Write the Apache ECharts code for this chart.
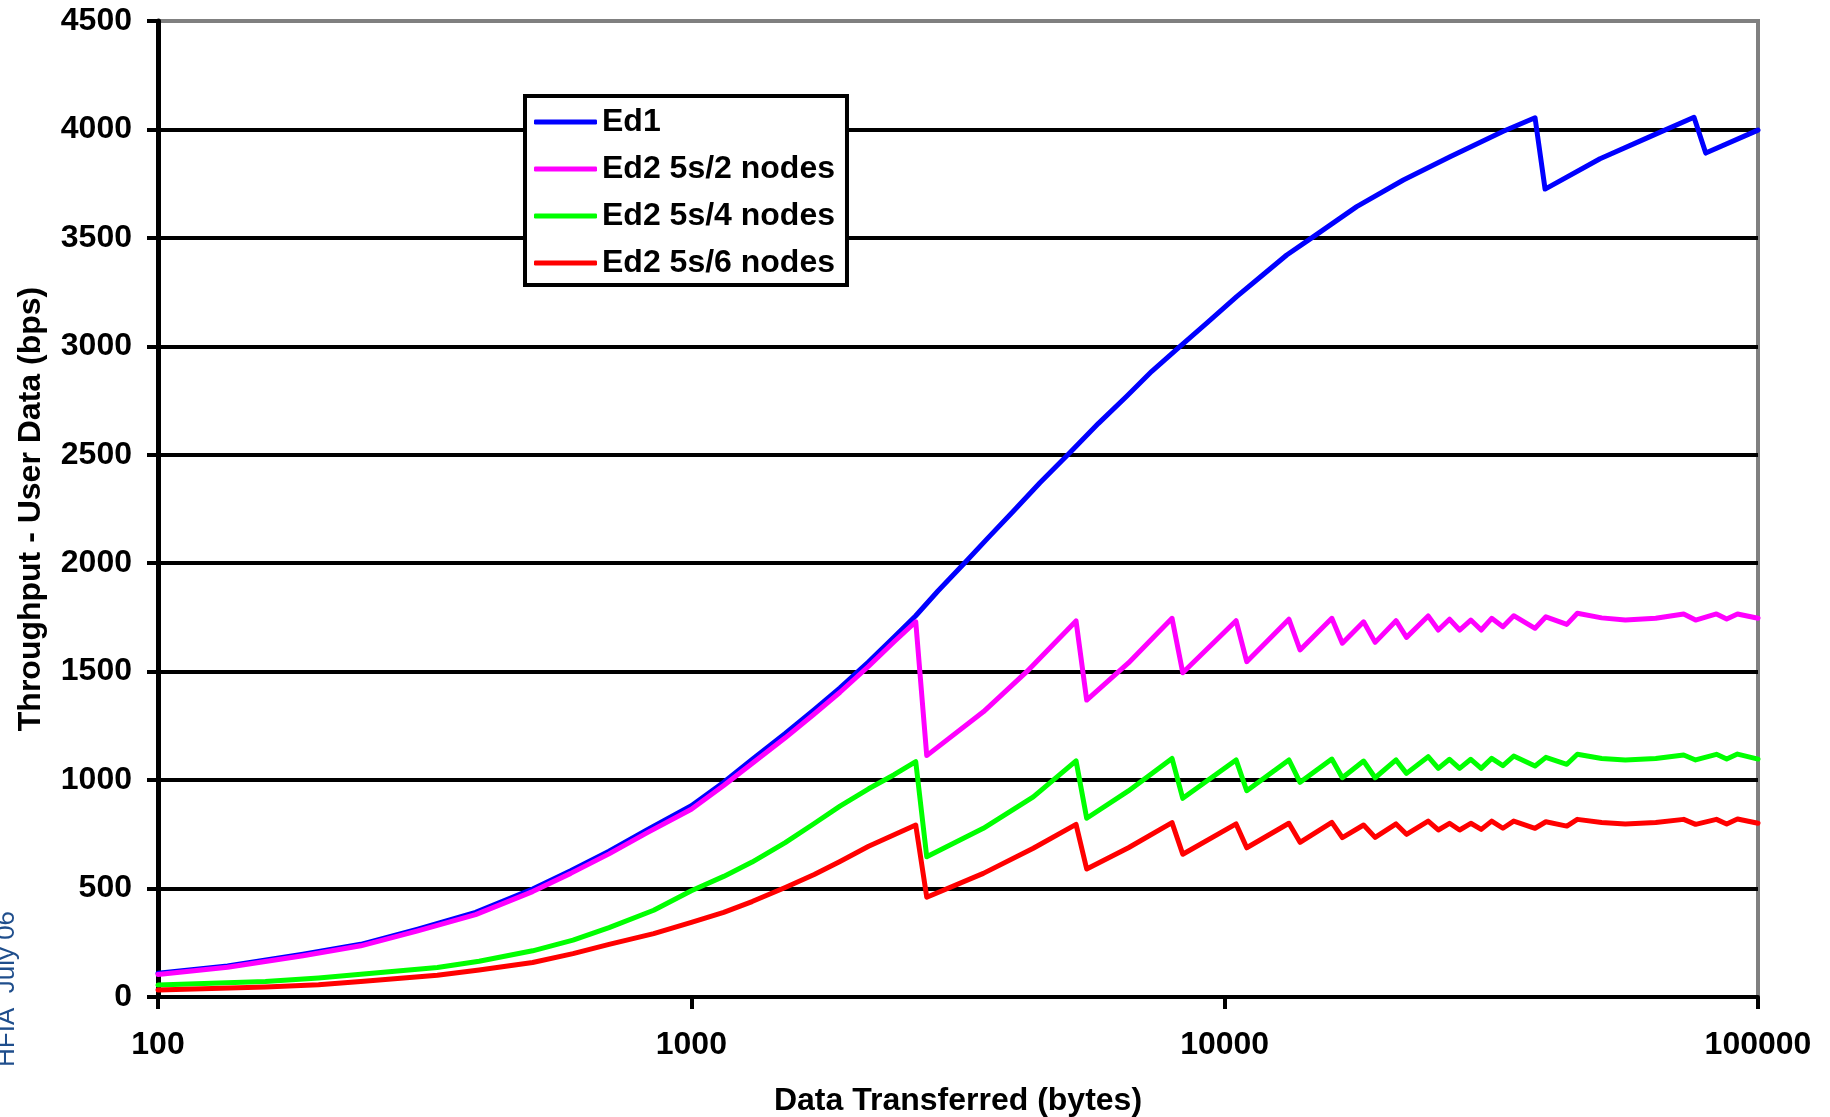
<!DOCTYPE html>
<html>
<head>
<meta charset="utf-8">
<script src="https://cdn.jsdelivr.net/npm/echarts@6/dist/echarts.min.js"></script>
<style>
html, body { margin: 0; padding: 0; background: #fff; }
#chart { width: 1830px; height: 1117px; }
</style>
</head>
<body>
<div id="chart"></div>
<script>
var FONT = '"Liberation Sans", Arial, sans-serif';

// [bytes, bps]
var ed1 = [
    [100, 110], [135, 143], [187, 197], [240, 243], [307, 313], [394, 390],
    [504, 498], [594, 582], [701, 672], [827, 772], [1000, 882], [1150, 990],
    [1300, 1095], [1500, 1215], [1700, 1325], [1900, 1425], [2150, 1545],
    [2400, 1660], [2635, 1758], [2900, 1872], [3250, 2000], [3600, 2117],
    [4015, 2240], [4500, 2370], [5129, 2510], [5800, 2645], [6551, 2770],
    [7300, 2885], [8248, 3000], [9300, 3112], [10531, 3229], [11800, 3330],
    [13073, 3421], [14561, 3500], [17685, 3644], [21630, 3767], [26460, 3874],
    [33300, 3992], [38190, 4054], [39880, 3725], [50560, 3865], [62740, 3967],
    [75860, 4056], [79800, 3891], [100000, 3997]
];

var ed2n2 = [
    [100, 104], [135, 137], [187, 190], [240, 236], [307, 305], [394, 380],
    [504, 486], [594, 570], [701, 660], [827, 758], [1000, 866], [1150, 975],
    [1300, 1077], [1500, 1195], [1700, 1305], [1900, 1405], [2150, 1525],
    [2400, 1638], [2635, 1730], [2763, 1113], [3528, 1315], [4255, 1500],
    [5264, 1734], [5512, 1369], [6600, 1540], [7967, 1746], [8345, 1495],
    [10505, 1735], [11000, 1546], [13196, 1742], [13846, 1600], [15883, 1746],
    [16620, 1631], [18217, 1730], [19148, 1635], [20956, 1735], [21925, 1658],
    [24076, 1757], [25153, 1692], [26400, 1742], [27575, 1692], [28940, 1738],
    [30270, 1692], [31670, 1746], [33240, 1707], [34830, 1758], [38190, 1700],
    [40020, 1753], [43810, 1718], [45840, 1769], [50920, 1748], [56390, 1738],
    [64300, 1746], [72550, 1766], [76380, 1738], [83580, 1766], [87350, 1743],
    [91530, 1766], [100000, 1746]
];

var ed2n4 = [
    [100, 55], [159, 71], [200, 88], [240, 105], [334, 136], [400, 165],
    [504, 213], [600, 262], [701, 320], [850, 400], [1000, 490], [1150, 556],
    [1300, 622], [1500, 712], [1700, 800], [1900, 880], [2150, 960],
    [2400, 1025], [2635, 1085], [2763, 647], [3528, 778], [4377, 923],
    [5264, 1089], [5512, 824], [6600, 950], [7967, 1100], [8345, 916],
    [10505, 1093], [11000, 951], [13196, 1093], [13846, 990], [15883, 1097],
    [16620, 1011], [18217, 1088], [19148, 1011], [20956, 1093], [21925, 1031],
    [24076, 1108], [25153, 1054], [26400, 1096], [27575, 1054], [28940, 1096],
    [30270, 1054], [31670, 1100], [33240, 1067], [34830, 1111], [38190, 1065],
    [40020, 1105], [43810, 1073], [45840, 1119], [50920, 1100], [56390, 1093],
    [64300, 1100], [72550, 1116], [76380, 1093], [83580, 1119], [87350, 1097],
    [91530, 1120], [100000, 1097]
];

var ed2n6 = [
    [100, 32], [159, 46], [200, 57], [240, 71], [334, 100], [400, 124],
    [504, 159], [600, 200], [701, 243], [850, 292], [1000, 344], [1150, 390],
    [1300, 440], [1500, 505], [1700, 565], [1900, 625], [2150, 695],
    [2400, 748], [2635, 793], [2763, 460], [3528, 570], [4377, 686],
    [5264, 796], [5512, 590], [6600, 688], [7967, 804], [8345, 658],
    [10505, 798], [11000, 688], [13196, 801], [13846, 713], [15883, 805],
    [16620, 735], [18217, 793], [19148, 736], [20956, 798], [21925, 750],
    [24076, 811], [25153, 770], [26400, 801], [27575, 770], [28940, 801],
    [30270, 773], [31670, 811], [33240, 778], [34830, 811], [38190, 778],
    [40020, 808], [43810, 788], [45840, 819], [50920, 805], [56390, 798],
    [64300, 805], [72550, 819], [76380, 796], [83580, 819], [87350, 798],
    [91530, 821], [100000, 801]
];

var seriesNames = ['Ed1', 'Ed2 5s/2 nodes', 'Ed2 5s/4 nodes', 'Ed2 5s/6 nodes'];
var seriesColors = ['#0000ff', '#ff00ff', '#00ff00', '#ff0000'];
var seriesData = [ed1, ed2n2, ed2n4, ed2n6];

var chart = echarts.init(document.getElementById('chart'));

var series = [];
for (var i = 0; i < seriesData.length; i++) {
    series.push({
        name: seriesNames[i],
        type: 'line',
        data: seriesData[i],
        symbol: 'none',
        color: seriesColors[i],
        lineStyle: { color: seriesColors[i], width: 5, join: 'round', cap: 'round' }
    });
}

var option = {
    animation: false,
    backgroundColor: '#fff',
    textStyle: { fontFamily: FONT },
    grid: {
        left: 158, right: 72, top: 21, bottom: 120,
        outerBoundsMode: 'none',
        containLabel: false,
        show: true, borderColor: '#808080', borderWidth: 4
    },
    legend: {
        orient: 'vertical',
        left: 525, top: 96,
        padding: [10, 12, 6, 9],
        itemGap: 15,
        itemWidth: 63,
        itemHeight: 5,
        icon: 'roundRect',
        backgroundColor: '#fff',
        borderColor: '#000',
        borderWidth: 4,
        borderRadius: 0,
        textStyle: { fontSize: 32, fontWeight: 'bold', color: '#000', fontFamily: FONT }
    },
    xAxis: {
        type: 'log', logBase: 10, min: 100, max: 100000,
        name: 'Data Transferred (bytes)',
        nameLocation: 'middle',
        nameGap: 88,
        nameTextStyle: { fontSize: 32, fontWeight: 'bold', color: '#000', fontFamily: FONT },
        axisLine: { show: true, lineStyle: { color: '#000', width: 4 } },
        axisTick: { show: true, length: 12, lineStyle: { color: '#000', width: 4 } },
        minorTick: { show: false },
        splitLine: { show: false },
        axisLabel: {
            margin: 32, fontSize: 32, fontWeight: 'bold', color: '#000', fontFamily: FONT,
            formatter: function(v) { return String(Math.round(v)); }
        }
    },
    yAxis: {
        type: 'value', min: 0, max: 4500, interval: 500,
        name: 'Throughput - User Data (bps)',
        nameLocation: 'middle',
        nameGap: 111,
        nameTextStyle: { fontSize: 32, fontWeight: 'bold', color: '#000', fontFamily: FONT },
        axisLine: { show: true, lineStyle: { color: '#000', width: 5 } },
        axisTick: { show: true, length: 11, lineStyle: { color: '#000', width: 4 } },
        splitLine: { show: true, showMaxLine: false, lineStyle: { color: '#000', width: 4 } },
        axisLabel: {
            margin: 26, fontSize: 32, fontWeight: 'bold', color: '#000', fontFamily: FONT,
            formatter: function(v) { return String(v); }
        }
    },
    graphic: [{
        type: 'text',
        x: 20, y: 1067,
        rotation: Math.PI / 2,
        style: {
            text: 'HFIA  July 06',
            font: '26px "Liberation Sans", Arial, sans-serif',
            fill: '#1f4e8c',
            align: 'left',
            verticalAlign: 'bottom'
        }
    }],
    series: series
};

chart.setOption(option);
</script>
</body>
</html>
